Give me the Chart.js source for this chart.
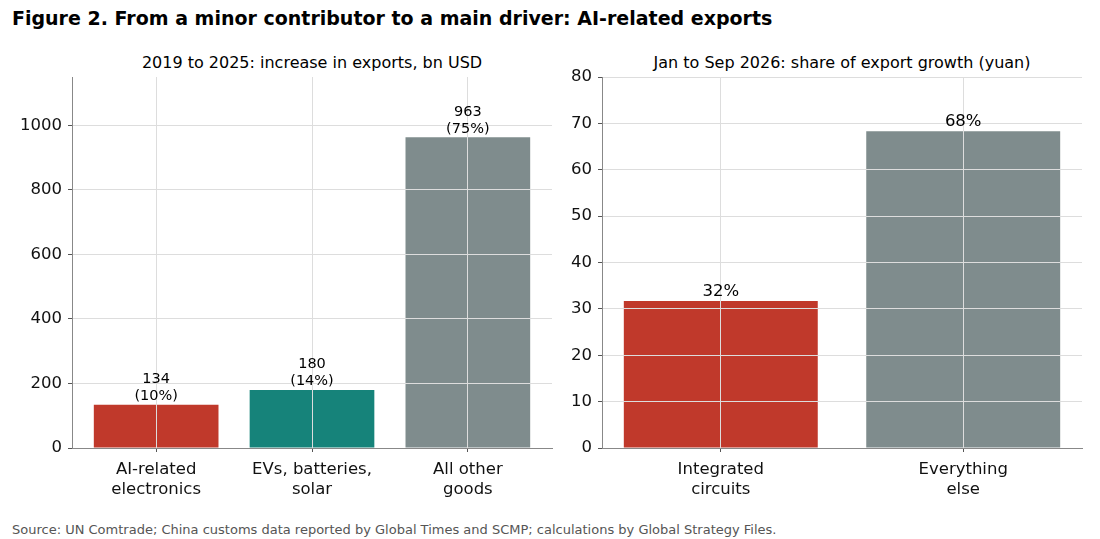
<!DOCTYPE html>
<html>
<head>
<meta charset="utf-8">
<script src="https://cdn.jsdelivr.net/npm/chart.js@4.4.1/dist/chart.umd.min.js"></script>
<style>
  body { margin: 0; background: #fff; font-family: "DejaVu Sans", sans-serif; }
  #wrap { position: relative; width: 1100px; height: 539px; overflow: hidden; }
  h1 { position: absolute; left: 12px; top: 7px; margin: 0; font-size: 19px; font-weight: bold; color: #000; }
  .sub { position: absolute; top: 53px; font-size: 16px; color: #000; text-align: center; width: 480px; }
  .src { position: absolute; left: 12px; top: 522px; font-size: 13px; color: #555; }
  canvas { position: absolute; }
</style>
</head>
<body>
<div id="wrap">
  <h1>Figure 2. From a minor contributor to a main driver: AI-related exports</h1>
  <div class="sub" style="left:72px">2019 to 2025: increase in exports, bn USD</div>
  <div class="sub" style="left:602px">Jan to Sep 2026: share of export growth (yuan)</div>
  <canvas id="left" width="560" height="450" style="left:0;top:60px"></canvas>
  <canvas id="right" width="560" height="450" style="left:530px;top:60px"></canvas>
  <div class="src">Source: UN Comtrade; China customs data reported by Global Times and SCMP; calculations by Global Strategy Files.</div>
</div>
<script>
// left panel
const leftCategories = [['AI-related', 'electronics'], ['EVs, batteries,', 'solar'], ['All other', 'goods']];
const leftValues = [134, 180, 963];
const leftLabels = [['134', '(10%)'], ['180', '(14%)'], ['963', '(75%)']];
const leftTicks = [0, 200, 400, 600, 800, 1000];
const leftColors = ['#c0392b', '#16837a', '#7f8c8d'];

// right panel
const rightCategories = [['Integrated', 'circuits'], ['Everything', 'else']];
const rightValues = [31.7, 68.3];
const rightLabels = [['32%'], ['68%']];
const rightTicks = [0, 10, 20, 30, 40, 50, 60, 70, 80];
const rightColors = ['#c0392b', '#7f8c8d'];

const FONT = 'DejaVu Sans';

const valueLabels = {
  id: 'valueLabels',
  afterDraw(chart, args, opts) {
    const ctx = chart.ctx;
    const meta = chart.getDatasetMeta(0);
    ctx.save();
    ctx.font = opts.size + 'px "' + FONT + '"';
    ctx.fillStyle = '#000';
    ctx.textAlign = 'center';
    ctx.textBaseline = 'bottom';
    meta.data.forEach((bar, i) => {
      const lines = opts.lines[i].slice().reverse();
      lines.forEach((t, j) => ctx.fillText(t, bar.x, bar.y - 1 - j * opts.lh));
    });
    ctx.restore();
  }
};

function makeChart(id, cats, values, colors, labels, ticks, yMax, xMin, xMax, labelSize) {
  return new Chart(document.getElementById(id), {
    type: 'bar',
    data: {
      datasets: [{
        data: values.map((v, i) => ({ x: i, y: v })),
        backgroundColor: colors,
        barPercentage: 0.8,
        categoryPercentage: 1.0
      }]
    },
    options: {
      responsive: false,
      animation: false,
      layout: { padding: { top: 17, right: 8, left: 0, bottom: 0 } },
      plugins: {
        legend: { display: false },
        tooltip: { enabled: false },
        valueLabels: { lines: labels, size: labelSize, lh: 17 }
      },
      scales: {
        x: {
          type: 'linear',
          min: xMin,
          max: xMax,
          offset: false,
          afterBuildTicks: s => { s.ticks = cats.map((c, i) => ({ value: i })); },
          afterFit: s => { s.height = 62; },
          grid: { z: 1, offset: false, color: '#dddddd', lineWidth: 1, tickLength: 4, tickColor: '#555' },
          border: { z: 2, color: '#888', width: 1 },
          ticks: {
            autoSkip: false, maxRotation: 0, padding: 8, color: '#111',
            font: { family: FONT, size: 16.5, lineHeight: 1.2 },
            callback: v => cats[Math.round(v)]
          }
        },
        y: {
          min: 0,
          max: yMax,
          afterBuildTicks: s => { s.ticks = ticks.map(v => ({ value: v })); },
          afterFit: s => { s.width = 72; },
          grid: { z: 1, color: '#dddddd', lineWidth: 1, tickLength: 4, tickColor: '#555' },
          border: { z: 2, color: '#888', width: 1 },
          ticks: {
            padding: 6, color: '#111', font: { family: FONT, size: 16.5 },
            callback: v => String(v)
          }
        }
      }
    },
    plugins: [valueLabels]
  });
}

makeChart('left', leftCategories, leftValues, leftColors, leftLabels, leftTicks, 1150, -0.54, 2.54, 14.5);
makeChart('right', rightCategories, rightValues, rightColors, rightLabels, rightTicks, 80, -0.49, 1.49, 16.5);
</script>
</body>
</html>
